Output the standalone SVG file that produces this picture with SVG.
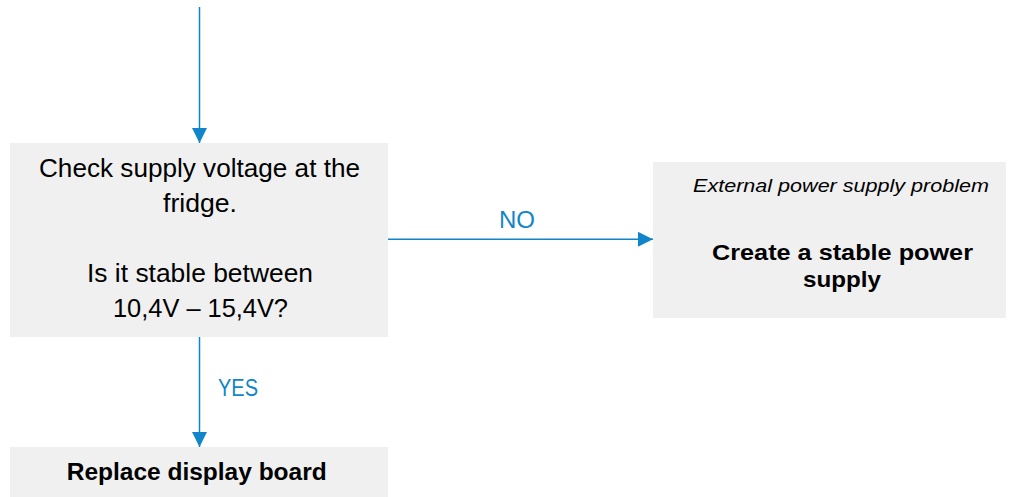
<svg xmlns="http://www.w3.org/2000/svg" width="1016" height="497" viewBox="0 0 1016 497">
<style>
.box{fill:#F0F0F0;}
.t{font-family:"Liberation Sans",Arial,sans-serif;fill:#000;text-anchor:middle;}
.lbl{font-family:"Liberation Sans",Arial,sans-serif;fill:#1185C9;font-size:23px;text-anchor:middle;}
.ln{stroke:#1185C9;stroke-width:1.5;fill:none;}
</style>
<defs>
<marker id="ah" markerUnits="userSpaceOnUse" markerWidth="16" markerHeight="16" refX="15" refY="7.5" orient="auto">
<path d="M0,0 L15,7.5 L0,15 Z" fill="#1185C9"/>
</marker>
</defs>
<g id="connectors">
<line class="ln" x1="199.5" y1="7" x2="199.5" y2="143" marker-end="url(#ah)"/>
<line class="ln" x1="388" y1="239.3" x2="653" y2="239.3" marker-end="url(#ah)"/>
<text class="lbl" x="517" y="227.5" textLength="36" lengthAdjust="spacingAndGlyphs">NO</text>
<line class="ln" x1="199.5" y1="337" x2="199.5" y2="447" marker-end="url(#ah)"/>
<text class="lbl" x="238" y="396" textLength="40" lengthAdjust="spacingAndGlyphs">YES</text>
</g>
<g id="check">
<rect class="box" x="10" y="143" width="378" height="194"/>
<text class="t" font-size="25" x="199.5" y="177" textLength="321" lengthAdjust="spacingAndGlyphs">Check supply voltage at the</text>
<text class="t" font-size="25" x="200" y="212" textLength="74" lengthAdjust="spacingAndGlyphs">fridge.</text>
<text class="t" font-size="25" x="200" y="282" textLength="226" lengthAdjust="spacingAndGlyphs">Is it stable between</text>
<text class="t" font-size="25" x="200.5" y="317" textLength="175" lengthAdjust="spacingAndGlyphs">10,4V – 15,4V?</text>
</g>
<g id="external">
<rect class="box" x="653" y="162" width="353" height="156"/>
<text class="t" font-size="18" font-style="italic" x="841" y="191.5" textLength="296" lengthAdjust="spacingAndGlyphs">External power supply problem</text>
<text class="t" font-size="22" font-weight="bold" x="842.5" y="260" textLength="261" lengthAdjust="spacingAndGlyphs">Create a stable power</text>
<text class="t" font-size="22" font-weight="bold" x="842" y="287" textLength="78" lengthAdjust="spacingAndGlyphs">supply</text>
</g>
<g id="replace">
<rect class="box" x="10" y="447" width="378" height="50"/>
<text class="t" font-size="23" font-weight="bold" x="196.7" y="480" textLength="260" lengthAdjust="spacingAndGlyphs">Replace display board</text>
</g>
</svg>
